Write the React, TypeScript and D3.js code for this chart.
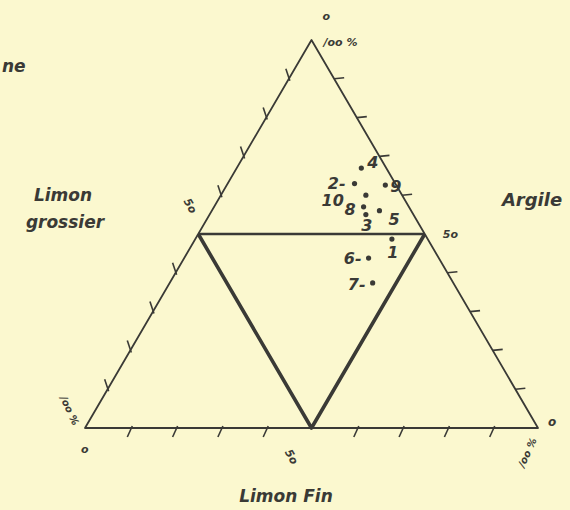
import React from 'react';
import * as d3 from 'd3';

// sample compositions (%): argile, limon fin, limon grossier
const samples = ['1', '2', '3', '4', '5', '6', '7', '8', '9', '10'];
const argile = [48.7, 63, 55, 67, 56, 43.8, 37.4, 57, 62.6, 60];
const limonFin = [43.4, 28, 34.5, 27.5, 37, 40.7, 44.8, 33, 35, 32];
const limonGrossier = [7.9, 9, 10.5, 5.5, 7, 15.5, 17.8, 10, 2.4, 8];

const tickValues = [10, 20, 30, 40, 60, 70, 80, 90];

const W = 570;
const H = 510;
const ink = '#3a3a36';
const font = 'DejaVu Sans, sans-serif';

// label offsets from each dot, by sample
const labelPos: Record<string, [number, number, string]> = {
  '1': [1, 19, 'middle'],
  '2': [-9, 5, 'end'],
  '3': [1, 16, 'middle'],
  '4': [6, 0, 'start'],
  '5': [9, 14, 'start'],
  '6': [-7, 6, 'end'],
  '7': [-7, 7, 'end'],
  '8': [-8, 8, 'end'],
  '9': [5, 7, 'start'],
  '10': [-22, 11, 'end'],
};

const App = () => {
  React.useEffect(() => {
    document.body.style.margin = '0';
  }, []);

  const x = d3.scaleLinear().domain([0, 1]).range([85, 538]);
  const y = d3.scaleLinear().domain([0, 1]).range([428, 40]);

  // a = argile (apex), f = limon fin (bottom right), g = limon grossier (bottom left)
  const proj = (a: number, f: number): [number, number] => [x(f / 100 + a / 200), y(a / 100)];

  const A = proj(100, 0);
  const B = proj(0, 0);
  const C = proj(0, 100);
  const mL = proj(50, 0);
  const mR = proj(50, 50);
  const mB = proj(0, 50);

  const line = d3.line();

  const leftTicks = tickValues.map((v) => proj(100 - v, 0));
  const rightTicks = tickValues.map((v) => proj(v, 100 - v));
  const bottomTicks = tickValues.map((v) => proj(0, v));

  const pts = samples.map((s, i) => ({ s, p: proj(argile[i], limonFin[i]) }));

  const hand = { fontFamily: font, fontWeight: 'bold', fontStyle: 'italic', fill: ink } as const;

  return (
    <svg width={W} height={H} style={{ display: 'block', background: '#fbf8cf' }}>
      <rect width={W} height={H} fill="#fbf8cf" />
      {/* outer triangle */}
      <path d={line([A, B, C, A]) + 'Z'} fill="none" stroke={ink} strokeWidth={1.8} strokeLinejoin="round" />
      {/* inner triangle */}
      <path d={line([mL, mB, mR]) ?? ''} fill="none" stroke={ink} strokeWidth={3.6} strokeLinejoin="round" />
      <path d={line([mL, mR]) ?? ''} fill="none" stroke={ink} strokeWidth={2.6} />

      {leftTicks.map(([tx, ty], i) => (
        <path key={'l' + i} d={`M${tx - 3},${ty - 10}L${tx + 1},${ty + 2}`} stroke={ink} strokeWidth={1.6} />
      ))}
      {rightTicks.map(([tx, ty], i) => (
        <path key={'r' + i} d={`M${tx},${ty}L${tx + 10},${ty - 1}`} stroke={ink} strokeWidth={1.6} />
      ))}
      {bottomTicks.map(([tx, ty], i) => (
        <path key={'b' + i} d={`M${tx - 3},${ty + 9}L${tx + 2},${ty - 2}`} stroke={ink} strokeWidth={1.6} />
      ))}

      {pts.map(({ s, p }) => {
        const [dx, dy, anchor] = labelPos[s];
        return (
          <g key={s}>
            <circle cx={p[0]} cy={p[1]} r={2.6} fill={ink} />
            <text x={p[0] + dx} y={p[1] + dy} fontSize={16} textAnchor={anchor} {...hand}>
              {s === '2' || s === '6' || s === '7' ? s + '-' : s}
            </text>
          </g>
        );
      })}

      {/* scale labels */}
      <text x={A[0] + 11} y={A[1] - 20} fontSize={11} {...hand}>o</text>
      <text x={A[0] + 12} y={A[1] + 6} fontSize={11} {...hand}>/oo %</text>
      <text x={mL[0] - 15} y={mL[1] - 33} fontSize={11} {...hand} transform={`rotate(60 ${mL[0] - 15} ${mL[1] - 33})`}>5o</text>
      <text x={mR[0] + 18} y={mR[1] + 4} fontSize={11} {...hand}>5o</text>
      <text x={mB[0] - 27} y={mB[1] + 24} fontSize={11} {...hand} transform={`rotate(60 ${mB[0] - 27} ${mB[1] + 24})`}>5o</text>
      <text x={B[0] - 25} y={B[1] - 30} fontSize={10} {...hand} transform={`rotate(65 ${B[0] - 25} ${B[1] - 30})`}>/oo %</text>
      <text x={B[0] - 4} y={B[1] + 25} fontSize={11} {...hand}>o</text>
      <text x={C[0] + 10} y={C[1] - 2} fontSize={12} {...hand}>o</text>
      <text x={C[0] - 14} y={C[1] + 40} fontSize={10} {...hand} transform={`rotate(-65 ${C[0] - 14} ${C[1] + 40})`}>/oo %</text>

      {/* axis titles */}
      <text x={63} y={201} fontSize={17} textAnchor="middle" {...hand}>Limon</text>
      <text x={65} y={228} fontSize={17} textAnchor="middle" {...hand}>grossier</text>
      <text x={532} y={206} fontSize={18} textAnchor="middle" {...hand}>Argile</text>
      <text x={286} y={502} fontSize={17} textAnchor="middle" {...hand}>Limon Fin</text>
      <text x={2} y={72} fontSize={17} {...hand}>ne</text>
    </svg>
  );
};

export default App;
